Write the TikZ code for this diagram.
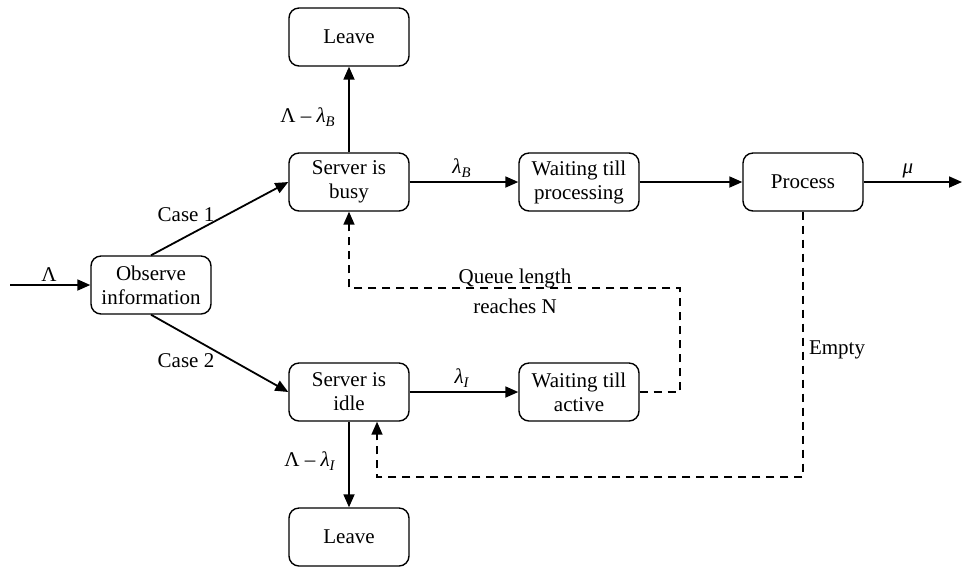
\documentclass[tikz,border=0pt]{standalone}
\usepackage{fontspec}
\setmainfont{Liberation Serif}
\usetikzlibrary{arrows.meta,calc}
\begin{document}
\begin{tikzpicture}[x=0.5pt,y=-0.5pt,
  font=\fontsize{10.5}{12}\selectfont,
  box/.style={draw, rounded corners=5pt, minimum width=60pt, minimum height=29pt,
    align=center, line width=0.7pt, inner sep=1pt},
  flow/.style={line width=0.9pt, -{Triangle[length=6.5pt,width=5.5pt]}},
  fb/.style={line width=0.8pt, dash pattern=on 4pt off 3pt, -{Triangle[length=6.5pt,width=5.5pt]}},
  lab/.style={inner sep=0pt}]
\useasboundingbox (0,0) rectangle (963,570);

% boxes
\node[box] (obs)   at (151,285) {Observe\\information};
\node[box] (busy)  at (349,182) {Server is\\busy};
\node[box] (idle)  at (349,392) {Server is\\idle};
\node[box] (lvt)   at (349,37)  {Leave};
\node[box] (lvb)   at (349,537) {Leave};
\node[box] (wproc) at (579,182) {Waiting till\\processing};
\node[box] (wact)  at (579,392) {Waiting till\\active};
\node[box] (proc)  at (803,182) {Process};

% free ends
\coordinate (in)  at (10,285);
\coordinate (out) at (962,182);

% main flow
\draw[flow] (in) -- (obs.west);
\draw[flow] (obs.north) -- (busy.west);
\draw[flow] (obs.south) -- (idle.west);
\draw[flow] (busy.north) -- (lvt.south);
\draw[flow] (idle.south) -- (lvb.north);
\draw[flow] (busy.east) -- (wproc.west);
\draw[flow] (wproc.east) -- (proc.west);
\draw[flow] (idle.east) -- (wact.west);
\draw[flow] (proc.east) -- (out);

% feedback paths
\coordinate (qr) at (680,288);
\draw[fb] (wact.east) -| (qr) -- (qr -| busy.south) -- (busy.south);
\coordinate (idin) at ([xshift=14pt]idle.south);
\coordinate (er) at (803,477);
\draw[fb] (proc.south) -- (er) -- (er -| idin) -- (idin);

% labels
\node[lab] (lLam) at (49,275) {Λ};
\node[lab] (lc1) at (186,215) {Case 1};
\node[lab] (lc2) at (186,361) {Case 2};
\node[lab] (lB)  at (308,117) {Λ – {\itshape λ\textsubscript{B}}};
\node[lab] (lI)  at (310,461) {Λ – {\itshape λ\textsubscript{I}}};
\node[lab] (lb)  at (462,168) {\itshape λ\textsubscript{B}};
\node[lab] (li)  at (462,378) {\itshape λ\textsubscript{I}};
\node[lab] (lmu) at (908,171) {\itshape μ};
\node[lab, align=center] (lq) at (515,291) {Queue length\\[3pt]reaches N};
\node[lab] (le) at (837,350) {Empty};
\end{tikzpicture}
\end{document}
